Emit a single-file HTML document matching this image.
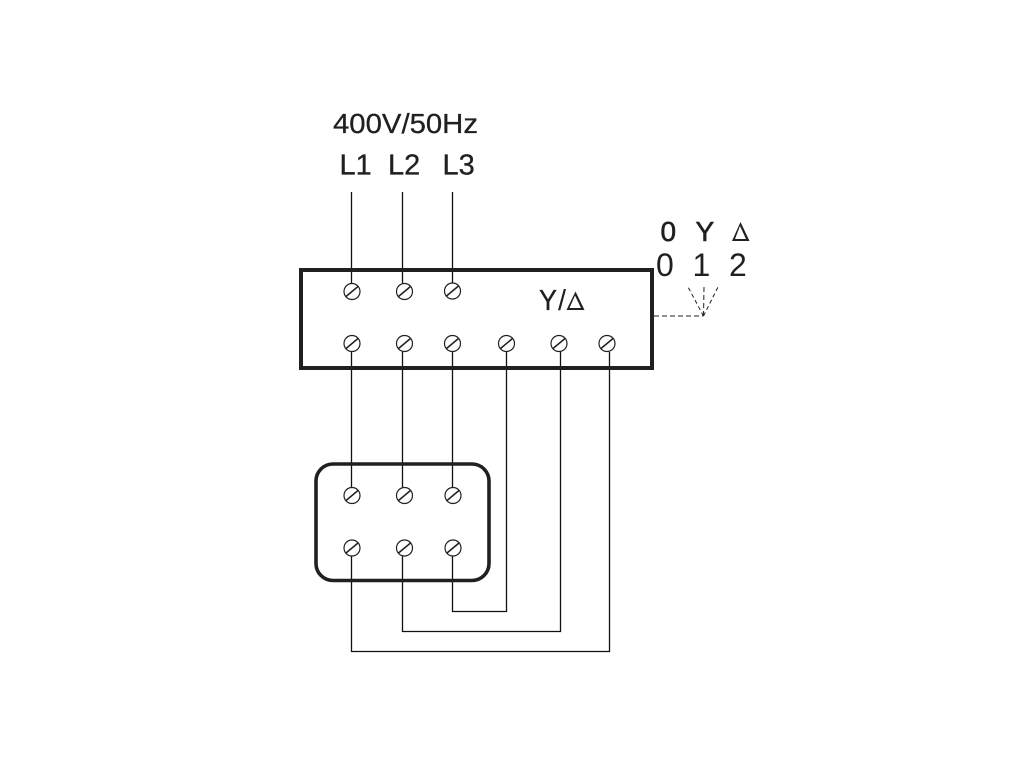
<!DOCTYPE html>
<html><head><meta charset="utf-8"><style>
html,body{margin:0;padding:0;background:#fff;width:1024px;height:768px;overflow:hidden}
svg{display:block}
text{font-family:"Liberation Sans",sans-serif;fill:#231f20;stroke:#231f20;stroke-width:.3}
</style></head><body>
<svg width="1024" height="768" viewBox="0 0 1024 768" xmlns="http://www.w3.org/2000/svg">
<defs>
<g id="s"><circle r="8" fill="#fff" stroke="#231f20" stroke-width="1.2"/><line x1="-6" y1="5" x2="6" y2="-5" stroke="#231f20" stroke-width="1.5"/></g>
</defs>
<g fill="none" stroke="#111" stroke-width="1.3">
<path d="M351.500 192V283M402.500 192V283M452.500 192V283"/>
<path d="M351.500 352V487M402.500 352V487M452.500 352V487"/>
<path d="M506.500 352V611.500H452.500V556"/>
<path d="M560.500 352V631.500H402.500V556"/>
<path d="M609.500 352V651.500H351.500V556"/>
</g>
<rect x="301" y="270" width="351" height="98" fill="none" stroke="#231f20" stroke-width="4"/>
<rect x="316" y="464" width="173" height="116.500" rx="17" fill="none" stroke="#231f20" stroke-width="3.6"/>
<g>
<use href="#s" x="352" y="291.500"/><use href="#s" x="404.500" y="291.500"/><use href="#s" x="452.500" y="291"/>
<use href="#s" x="352" y="343.500"/><use href="#s" x="404.500" y="343.500"/><use href="#s" x="452.500" y="343.500"/>
<use href="#s" x="506.500" y="343.500"/><use href="#s" x="559" y="343.500"/><use href="#s" x="607" y="343.500"/>
<use href="#s" x="352" y="495.500"/><use href="#s" x="404.500" y="495.500"/><use href="#s" x="453" y="495.500"/>
<use href="#s" x="352" y="548"/><use href="#s" x="404.500" y="548"/><use href="#s" x="453" y="548"/>
</g>
<g fill="none" stroke="#231f20" stroke-width="1">
<path d="M654 316H703" stroke-dasharray="5 3"/>
<path d="M703.500 316L704 287" stroke-dasharray="5 3"/>
<path d="M703.500 316L688 287" stroke-dasharray="4 3"/>
<path d="M703.500 316L718 287" stroke-dasharray="4 3"/>
</g>
<text x="333" y="133" font-size="28" textLength="145" lengthAdjust="spacingAndGlyphs">400V/50Hz</text>
<text x="339.500" y="174.500" font-size="29">L1</text>
<text x="388" y="174.500" font-size="29">L2</text>
<text x="442.500" y="174.500" font-size="29">L3</text>
<text x="539" y="310" font-size="29" textLength="18" lengthAdjust="spacingAndGlyphs">Y</text>
<text x="558" y="310" font-size="29" style="stroke-width:0">/</text>
<path fill-rule="evenodd" fill="#231f20" d="M566.500 310L575.500 291.500L584.500 310ZM569.500 308H581L575 295.500Z"/>
<text x="660.500" y="241" font-size="28" style="stroke-width:.6">0</text>
<text x="695.500" y="241" font-size="28" style="stroke-width:.6">Y</text>
<path fill-rule="evenodd" fill="#231f20" d="M732 241L740.500 222L749.500 241ZM735 239H746L740 226Z"/>
<text x="656" y="276" font-size="32" style="stroke-width:0">0</text>
<text x="692.500" y="276" font-size="32" style="stroke-width:0">1</text>
<text x="729" y="276" font-size="32" style="stroke-width:0">2</text>
</svg>
</body></html>
